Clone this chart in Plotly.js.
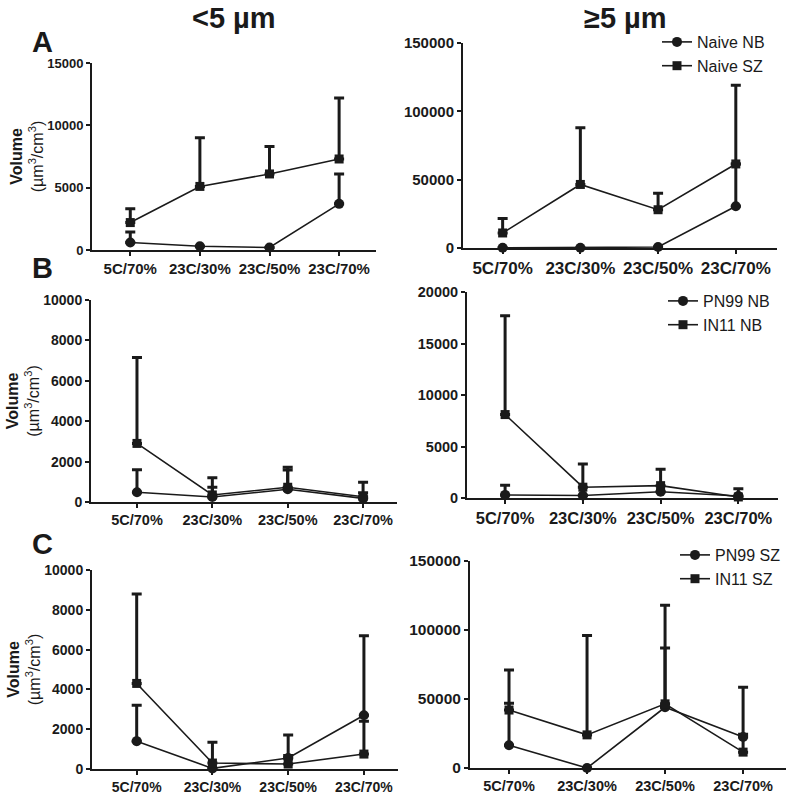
<!DOCTYPE html>
<html><head><meta charset="utf-8">
<script src="https://cdn.plot.ly/plotly-3.0.1.min.js"></script>
<style>html,body{margin:0;padding:0;background:#fff}#chart{width:787px;height:795px}</style>
</head><body><div id="chart"></div>
<script>
const categories = ['5C/70%', '23C/30%', '23C/50%', '23C/70%'];

// Panel A, <5 um
const aSmallNaiveNB = [600, 300, 200, 3700];
const aSmallNaiveNBErr = [850, NaN, NaN, 2400];
const aSmallNaiveSZ = [2200, 5100, 6100, 7300];
const aSmallNaiveSZErr = [1100, 3900, 2200, 4900];
// Panel A, >=5 um
const aLargeNaiveNB = [200, 200, 700, 30500];
const aLargeNaiveNBErr = [NaN, NaN, NaN, 31000];
const aLargeNaiveSZ = [11000, 46500, 28000, 61500];
const aLargeNaiveSZErr = [10500, 41500, 12000, 57500];

// Panel B, <5 um
const bSmallPN99NB = [480, 250, 630, 180];
const bSmallPN99NBErr = [1120, 950, 950, 795];
const bSmallIN11NB = [2900, 350, 730, 260];
const bSmallIN11NBErr = [4250, 380, 990, 200];
// Panel B, >=5 um
const bLargePN99NB = [300, 250, 600, 200];
const bLargePN99NBErr = [950, NaN, NaN, NaN];
const bLargeIN11NB = [8100, 1050, 1200, 100];
const bLargeIN11NBErr = [9600, 2250, 1600, 800];

// Panel C, <5 um
const cSmallPN99SZ = [1400, 30, 550, 2700];
const cSmallPN99SZErr = [1800, NaN, 1160, 4000];
const cSmallIN11SZ = [4300, 300, 250, 750];
const cSmallIN11SZErr = [4500, 1050, 430, 1650];
// Panel C, >=5 um
const cLargePN99SZ = [16500, 0, 44000, 22500];
const cLargePN99SZErr = [30500, NaN, 43000, 36000];
const cLargeIN11SZ = [42000, 24000, 46500, 11500];
const cLargeIN11SZErr = [29000, 72000, 71500, 13000];

const legendNames = [['Naive NB', 'Naive SZ'], ['PN99 NB', 'IN11 NB'], ['PN99 SZ', 'IN11 SZ']];

const W = 787, H = 795;
const INK = '#1a1a1a';
const FONT = 'Liberation Sans, Arial, Helvetica, sans-serif';

const panels = [
  {xd: [92, 376], yd: [63, 250], xr: [-0.55, 3.53], ymax: 15000, dt: 5000, ytf: 13, xtf: 15, ytitle: true,
   s: [[aSmallNaiveNB, aSmallNaiveNBErr], [aSmallNaiveSZ, aSmallNaiveSZErr]], row: 0},
  {xd: [463, 777], yd: [43, 248], xr: [-0.51, 3.53], ymax: 150000, dt: 50000, ytf: 15, xtf: 17, ytitle: false,
   s: [[aLargeNaiveNB, aLargeNaiveNBErr], [aLargeNaiveSZ, aLargeNaiveSZErr]], row: 0, leg: 'legend'},
  {xd: [91, 397], yd: [300, 502], xr: [-0.61, 3.45], ymax: 10000, dt: 2000, ytf: 14, xtf: 14.5, ytitle: true,
   s: [[bSmallPN99NB, bSmallPN99NBErr], [bSmallIN11NB, bSmallIN11NBErr]], row: 1},
  {xd: [467, 778], yd: [292, 498], xr: [-0.49, 3.51], ymax: 20000, dt: 5000, ytf: 14.5, xtf: 16.5, ytitle: false,
   s: [[bLargePN99NB, bLargePN99NBErr], [bLargeIN11NB, bLargeIN11NBErr]], row: 1, leg: 'legend2'},
  {xd: [92, 398], yd: [570, 769], xr: [-0.59, 3.45], ymax: 10000, dt: 2000, ytf: 14, xtf: 14, ytitle: true,
   s: [[cSmallPN99SZ, cSmallPN99SZErr], [cSmallIN11SZ, cSmallIN11SZErr]], row: 2},
  {xd: [470, 786], yd: [561, 768], xr: [-0.5, 3.55], ymax: 150000, dt: 50000, ytf: 15.5, xtf: 14.5, ytitle: false,
   s: [[cLargePN99SZ, cLargePN99SZErr], [cLargeIN11SZ, cLargeIN11SZErr]], row: 2, leg: 'legend3'}
];

const traces = [];
const layout = {
  width: W, height: H,
  margin: {l: 0, r: 0, t: 0, b: 0},
  paper_bgcolor: '#fff', plot_bgcolor: 'rgba(0,0,0,0)',
  font: {family: FONT, color: INK},
  annotations: []
};

panels.forEach((p, i) => {
  const n = i + 1;
  const xa = 'x' + (n === 1 ? '' : n), ya = 'y' + (n === 1 ? '' : n);
  const xk = 'xaxis' + (n === 1 ? '' : n), yk = 'yaxis' + (n === 1 ? '' : n);
  const symbols = ['circle', 'square'];
  p.s.forEach((ser, j) => {
    traces.push({
      type: 'scatter', mode: 'lines+markers',
      x: categories, y: ser[0],
      xaxis: xa, yaxis: ya,
      name: legendNames[p.row][j],
      showlegend: !!p.leg,
      legend: p.leg || 'legend',
      cliponaxis: false,
      line: {color: INK, width: 1.6},
      marker: {symbol: symbols[j], size: j === 0 ? 10 : 9, color: INK},
      error_y: {type: 'data', symmetric: false, array: ser[1], arrayminus: ser[1].map(() => 0),
                color: INK, thickness: 3, width: 5}
    });
  });
  layout[xk] = {
    domain: [p.xd[0] / W, p.xd[1] / W],
    anchor: ya, type: 'category', range: p.xr,
    showline: true, linecolor: INK, linewidth: 2,
    ticks: 'outside', ticklen: 4, tickwidth: 2, tickcolor: INK,
    showgrid: false, zeroline: false, fixedrange: true,
    tickfont: {size: p.xtf, family: FONT, color: INK, weight: 'bold'}
  };
  const y = {
    domain: [1 - p.yd[1] / H, 1 - p.yd[0] / H],
    anchor: xa, range: [0, p.ymax], tick0: 0, dtick: p.dt, tickformat: 'd',
    showline: true, linecolor: INK, linewidth: 2,
    ticks: 'outside', ticklen: 4, tickwidth: 2, tickcolor: INK,
    showgrid: false, zeroline: false, fixedrange: true,
    tickfont: {size: p.ytf, family: FONT, color: INK, weight: 'bold'}
  };
  if (p.ytitle) {
    y.title = {text: '<b>Volume</b><br>(µm<sup>3</sup>/cm<sup>3</sup>)',
               font: {size: 16, family: FONT, color: INK}, standoff: 0};
  }
  layout[yk] = y;
});

const legBase = {xanchor: 'left', yanchor: 'top', bgcolor: 'rgba(0,0,0,0)',
  font: {size: 16, family: FONT, color: INK}, itemwidth: 30, tracegroupgap: 0};
layout.legend = Object.assign({}, legBase, {x: 657 / W, y: 1 - 25 / H});
layout.legend2 = Object.assign({}, legBase, {x: 663 / W, y: 1 - 284 / H});
layout.legend3 = Object.assign({}, legBase, {x: 675 / W, y: 1 - 538 / H});

const ann = (text, px, py, size) => ({text: text, x: px / W, y: 1 - py / H, xref: 'paper', yref: 'paper',
  showarrow: false, xanchor: 'center', yanchor: 'middle', font: {size: size, family: FONT, color: INK, weight: 'bold'}});
layout.annotations.push(ann('<5 µm', 234, 18, 29));
layout.annotations.push(ann('≥5 µm', 625, 18, 29));
layout.annotations.push(ann('A', 42, 42, 29));
layout.annotations.push(ann('B', 42, 268, 29));
layout.annotations.push(ann('C', 42, 544, 29));

Plotly.newPlot('chart', traces, layout, {displayModeBar: false, staticPlot: true});
</script>
</body></html>
